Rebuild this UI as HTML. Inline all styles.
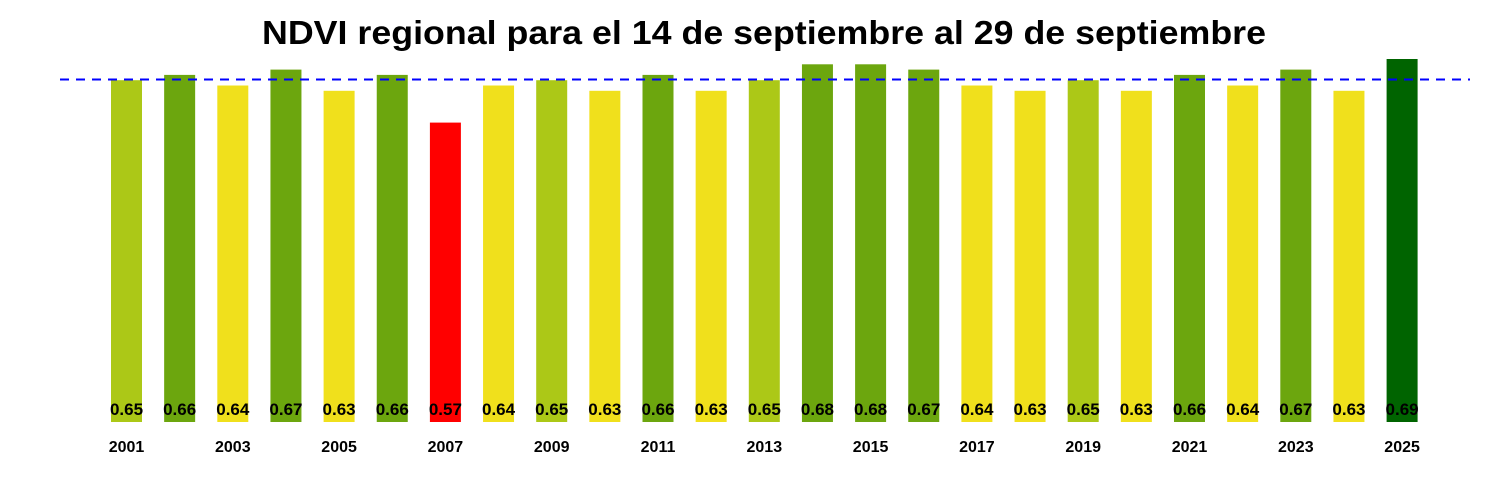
<!DOCTYPE html>
<html><head><meta charset="utf-8"><style>
html,body{margin:0;padding:0;background:#fff;}
svg{display:block;font-family:"Liberation Sans",Arial,sans-serif;}
.v{font-size:17px;font-weight:bold;text-anchor:middle;fill:#000;}
.y{font-size:16px;font-weight:bold;text-anchor:middle;fill:#000;}
</style></head><body>
<svg width="1500" height="500" viewBox="0 0 1500 500">
<text x="764" y="44" font-size="33" font-weight="bold" text-anchor="middle" textLength="1004" lengthAdjust="spacingAndGlyphs">NDVI regional para el 14 de septiembre al 29 de septiembre</text>
<g>
<rect x="111" y="80.2" width="31" height="341.8" fill="#acc817"/>
<rect x="164.15" y="74.9" width="31" height="347.1" fill="#6ca60e"/>
<rect x="217.3" y="85.5" width="31" height="336.5" fill="#f0e01c"/>
<rect x="270.45" y="69.6" width="31" height="352.4" fill="#6ca60e"/>
<rect x="323.6" y="90.8" width="31" height="331.2" fill="#f0e01c"/>
<rect x="376.75" y="74.9" width="31" height="347.1" fill="#6ca60e"/>
<rect x="429.9" y="122.6" width="31" height="299.4" fill="#ff0000"/>
<rect x="483.05" y="85.5" width="31" height="336.5" fill="#f0e01c"/>
<rect x="536.2" y="80.2" width="31" height="341.8" fill="#acc817"/>
<rect x="589.35" y="90.8" width="31" height="331.2" fill="#f0e01c"/>
<rect x="642.5" y="74.9" width="31" height="347.1" fill="#6ca60e"/>
<rect x="695.65" y="90.8" width="31" height="331.2" fill="#f0e01c"/>
<rect x="748.8" y="80.2" width="31" height="341.8" fill="#acc817"/>
<rect x="801.95" y="64.3" width="31" height="357.7" fill="#6ca60e"/>
<rect x="855.1" y="64.3" width="31" height="357.7" fill="#6ca60e"/>
<rect x="908.25" y="69.6" width="31" height="352.4" fill="#6ca60e"/>
<rect x="961.4" y="85.5" width="31" height="336.5" fill="#f0e01c"/>
<rect x="1014.55" y="90.8" width="31" height="331.2" fill="#f0e01c"/>
<rect x="1067.7" y="80.2" width="31" height="341.8" fill="#acc817"/>
<rect x="1120.85" y="90.8" width="31" height="331.2" fill="#f0e01c"/>
<rect x="1174" y="74.9" width="31" height="347.1" fill="#6ca60e"/>
<rect x="1227.15" y="85.5" width="31" height="336.5" fill="#f0e01c"/>
<rect x="1280.3" y="69.6" width="31" height="352.4" fill="#6ca60e"/>
<rect x="1333.45" y="90.8" width="31" height="331.2" fill="#f0e01c"/>
<rect x="1386.6" y="59" width="31" height="363" fill="#006400"/>
</g>
<line x1="60" y1="79.5" x2="1470" y2="79.5" stroke="#0000ff" stroke-width="2" stroke-dasharray="9,7"/>
<g class="v">
<text x="126.5" y="415">0.65</text><text x="179.65" y="415">0.66</text><text x="232.8" y="415">0.64</text><text x="285.95" y="415">0.67</text><text x="339.1" y="415">0.63</text><text x="392.25" y="415">0.66</text><text x="445.4" y="415">0.57</text><text x="498.55" y="415">0.64</text><text x="551.7" y="415">0.65</text><text x="604.85" y="415">0.63</text><text x="658" y="415">0.66</text><text x="711.15" y="415">0.63</text><text x="764.3" y="415">0.65</text><text x="817.45" y="415">0.68</text><text x="870.6" y="415">0.68</text><text x="923.75" y="415">0.67</text><text x="976.9" y="415">0.64</text><text x="1030.05" y="415">0.63</text><text x="1083.2" y="415">0.65</text><text x="1136.35" y="415">0.63</text><text x="1189.5" y="415">0.66</text><text x="1242.65" y="415">0.64</text><text x="1295.8" y="415">0.67</text><text x="1348.95" y="415">0.63</text><text x="1402.1" y="415">0.69</text>
</g>
<g class="y">
<text x="126.5" y="452">2001</text><text x="232.8" y="452">2003</text><text x="339.1" y="452">2005</text><text x="445.4" y="452">2007</text><text x="551.7" y="452">2009</text><text x="658" y="452">2011</text><text x="764.3" y="452">2013</text><text x="870.6" y="452">2015</text><text x="976.9" y="452">2017</text><text x="1083.2" y="452">2019</text><text x="1189.5" y="452">2021</text><text x="1295.8" y="452">2023</text><text x="1402.1" y="452">2025</text>
</g>
</svg>
</body></html>
